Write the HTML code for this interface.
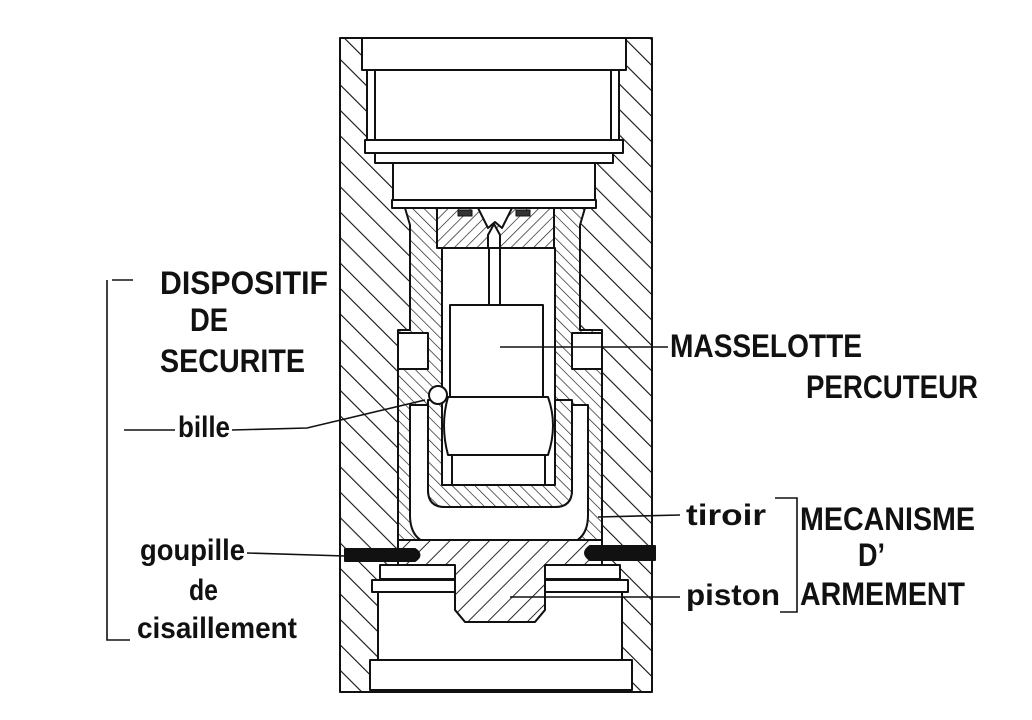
<!DOCTYPE html>
<html><head><meta charset="utf-8"><style>
html,body{margin:0;padding:0;background:#fff;}
svg{display:block;}
text{font-family:"Liberation Sans Narrow","Liberation Sans",sans-serif;font-weight:bold;fill:#111;}
</style></head><body>
<svg width="1032" height="720" viewBox="0 0 1032 720" xmlns="http://www.w3.org/2000/svg">
<defs>
<pattern id="h1" patternUnits="userSpaceOnUse" width="18" height="18" patternTransform="rotate(-45)">
<rect width="18" height="18" fill="#fff"/><line x1="0" y1="0" x2="0" y2="18" stroke="#111" stroke-width="2.2"/></pattern>
<pattern id="h2" patternUnits="userSpaceOnUse" width="8" height="8" patternTransform="rotate(-45)">
<rect width="8" height="8" fill="#fff"/><line x1="0" y1="0" x2="0" y2="8" stroke="#111" stroke-width="1.3"/></pattern>
<pattern id="h3" patternUnits="userSpaceOnUse" width="8" height="8" patternTransform="rotate(45)">
<rect width="8" height="8" fill="#fff"/><line x1="0" y1="0" x2="0" y2="8" stroke="#111" stroke-width="1.3"/></pattern>
<pattern id="h4" patternUnits="userSpaceOnUse" width="14" height="14" patternTransform="rotate(45)">
<rect width="14" height="14" fill="#fff"/><line x1="0" y1="0" x2="0" y2="14" stroke="#111" stroke-width="1.8"/></pattern>
</defs>
<g stroke="#111" stroke-width="2" stroke-linejoin="round">
<rect x="340" y="38" width="312" height="654" fill="url(#h1)"/>
<path d="M398 330 L410 330 L410 225 L405 208 L585 208 L580 225 L580 330 L602 330 L602 540 L398 540 Z" fill="url(#h2)"/>
<rect x="362" y="38" width="264" height="32" fill="#fff"/>
<rect x="367" y="70" width="252" height="70" fill="#fff"/>
<line x1="375" y1="70" x2="375" y2="140"/><line x1="611" y1="70" x2="611" y2="140"/>
<rect x="365" y="140" width="258" height="13" fill="#fff"/>
<rect x="375" y="153" width="238" height="10" fill="#fff"/>
<rect x="393" y="163" width="202" height="37" fill="#fff"/>
<rect x="392" y="200" width="204" height="8" fill="#fff"/>
<rect x="437" y="208" width="117" height="40" fill="url(#h3)"/>
<path d="M478 208 L488 228 L495 222 L502 228 L512 208 Z" fill="#fff"/>
<rect x="458" y="210" width="14" height="6" fill="#333" stroke-width="1"/>
<rect x="516" y="210" width="14" height="6" fill="#333" stroke-width="1"/>
<path d="M488 248 L488 235 L494 224 L500 235 L500 248 Z" fill="#fff"/>
<rect x="442" y="248" width="113" height="237" fill="#fff"/>
<rect x="489" y="248" width="11" height="57" fill="#fff"/>
<rect x="398" y="333" width="30" height="36" fill="#fff"/>
<rect x="572" y="333" width="30" height="36" fill="#fff"/>
<path d="M410 405 L428 405 L428 490 Q428 507 445 507 L555 507 Q572 507 572 490 L572 405 L588 405 L588 515 Q588 545 558 545 L440 545 Q410 545 410 515 Z" fill="#fff"/>
<path d="M428 400 L442 400 L442 485 L555 485 L555 400 L572 400 L572 490 Q572 507 555 507 L445 507 Q428 507 428 490 Z" fill="url(#h2)"/>
<rect x="450" y="305" width="93" height="92" fill="#fff"/>
<path d="M448 397 L548 397 Q558 425 548 455 L448 455 Q440 425 448 397 Z" fill="#fff"/>
<rect x="452" y="455" width="93" height="30" fill="#fff"/>
<circle cx="438" cy="395" r="9" fill="#fff"/>
<path d="M398 540 L602 540 L602 572 L545 572 L545 610 L535 622 L465 622 L455 610 L455 572 L398 572 Z" fill="url(#h4)"/>
<rect x="380" y="565" width="75" height="14" fill="#fff"/>
<rect x="545" y="565" width="75" height="14" fill="#fff"/>
<path d="M372 580 L455 580 L455 610 L465 622 L535 622 L545 610 L545 580 L628 580 L628 592 L622 592 L622 660 L378 660 L378 592 L372 592 Z" fill="#fff"/>
<line x1="372" y1="592" x2="455" y2="592"/><line x1="545" y1="592" x2="628" y2="592"/>
<rect x="370" y="660" width="262" height="30" fill="#fff"/>
<path d="M345 549 L415 549 Q424 555 415 561 L345 561 Z" fill="#111"/>
<path d="M655 546 L590 546 Q580 553 590 560 L655 560 Z" fill="#111"/>
</g>
<g stroke="#111" stroke-width="1.6" fill="none">
<polyline points="107,280 107,640 130,640"/>
<line x1="112" y1="280" x2="133" y2="280"/>
<line x1="124" y1="430" x2="175" y2="430"/>
<polyline points="232,430 307,428 425,400"/>
<line x1="247" y1="553" x2="345" y2="556"/>
<line x1="500" y1="347" x2="668" y2="347"/>
<line x1="598" y1="517" x2="680" y2="515"/>
<line x1="510" y1="597" x2="680" y2="597"/>
<polyline points="775,498 797,498 797,612 780,612"/>
</g>
<text x="160" y="294" font-size="32" textLength="168" lengthAdjust="spacingAndGlyphs">DISPOSITIF</text>
<text x="190" y="331" font-size="32" textLength="38" lengthAdjust="spacingAndGlyphs">DE</text>
<text x="160" y="372" font-size="32" textLength="145" lengthAdjust="spacingAndGlyphs">SECURITE</text>
<text x="178" y="437" font-size="30" textLength="52" lengthAdjust="spacingAndGlyphs">bille</text>
<text x="140" y="560" font-size="30" textLength="105" lengthAdjust="spacingAndGlyphs">goupille</text>
<text x="189" y="600" font-size="30" textLength="29" lengthAdjust="spacingAndGlyphs">de</text>
<text x="137" y="638" font-size="30" textLength="160" lengthAdjust="spacingAndGlyphs">cisaillement</text>
<text x="670" y="357" font-size="32" textLength="192" lengthAdjust="spacingAndGlyphs">MASSELOTTE</text>
<text x="806" y="398" font-size="32" textLength="172" lengthAdjust="spacingAndGlyphs">PERCUTEUR</text>
<text x="686" y="525" font-size="30" textLength="80" lengthAdjust="spacingAndGlyphs">tiroir</text>
<text x="800" y="530" font-size="32" textLength="175" lengthAdjust="spacingAndGlyphs">MECANISME</text>
<text x="858" y="566" font-size="32" textLength="27" lengthAdjust="spacingAndGlyphs">D’</text>
<text x="686" y="605" font-size="30" textLength="94" lengthAdjust="spacingAndGlyphs">piston</text>
<text x="800" y="605" font-size="32" textLength="165" lengthAdjust="spacingAndGlyphs">ARMEMENT</text>
</svg>
</body></html>
